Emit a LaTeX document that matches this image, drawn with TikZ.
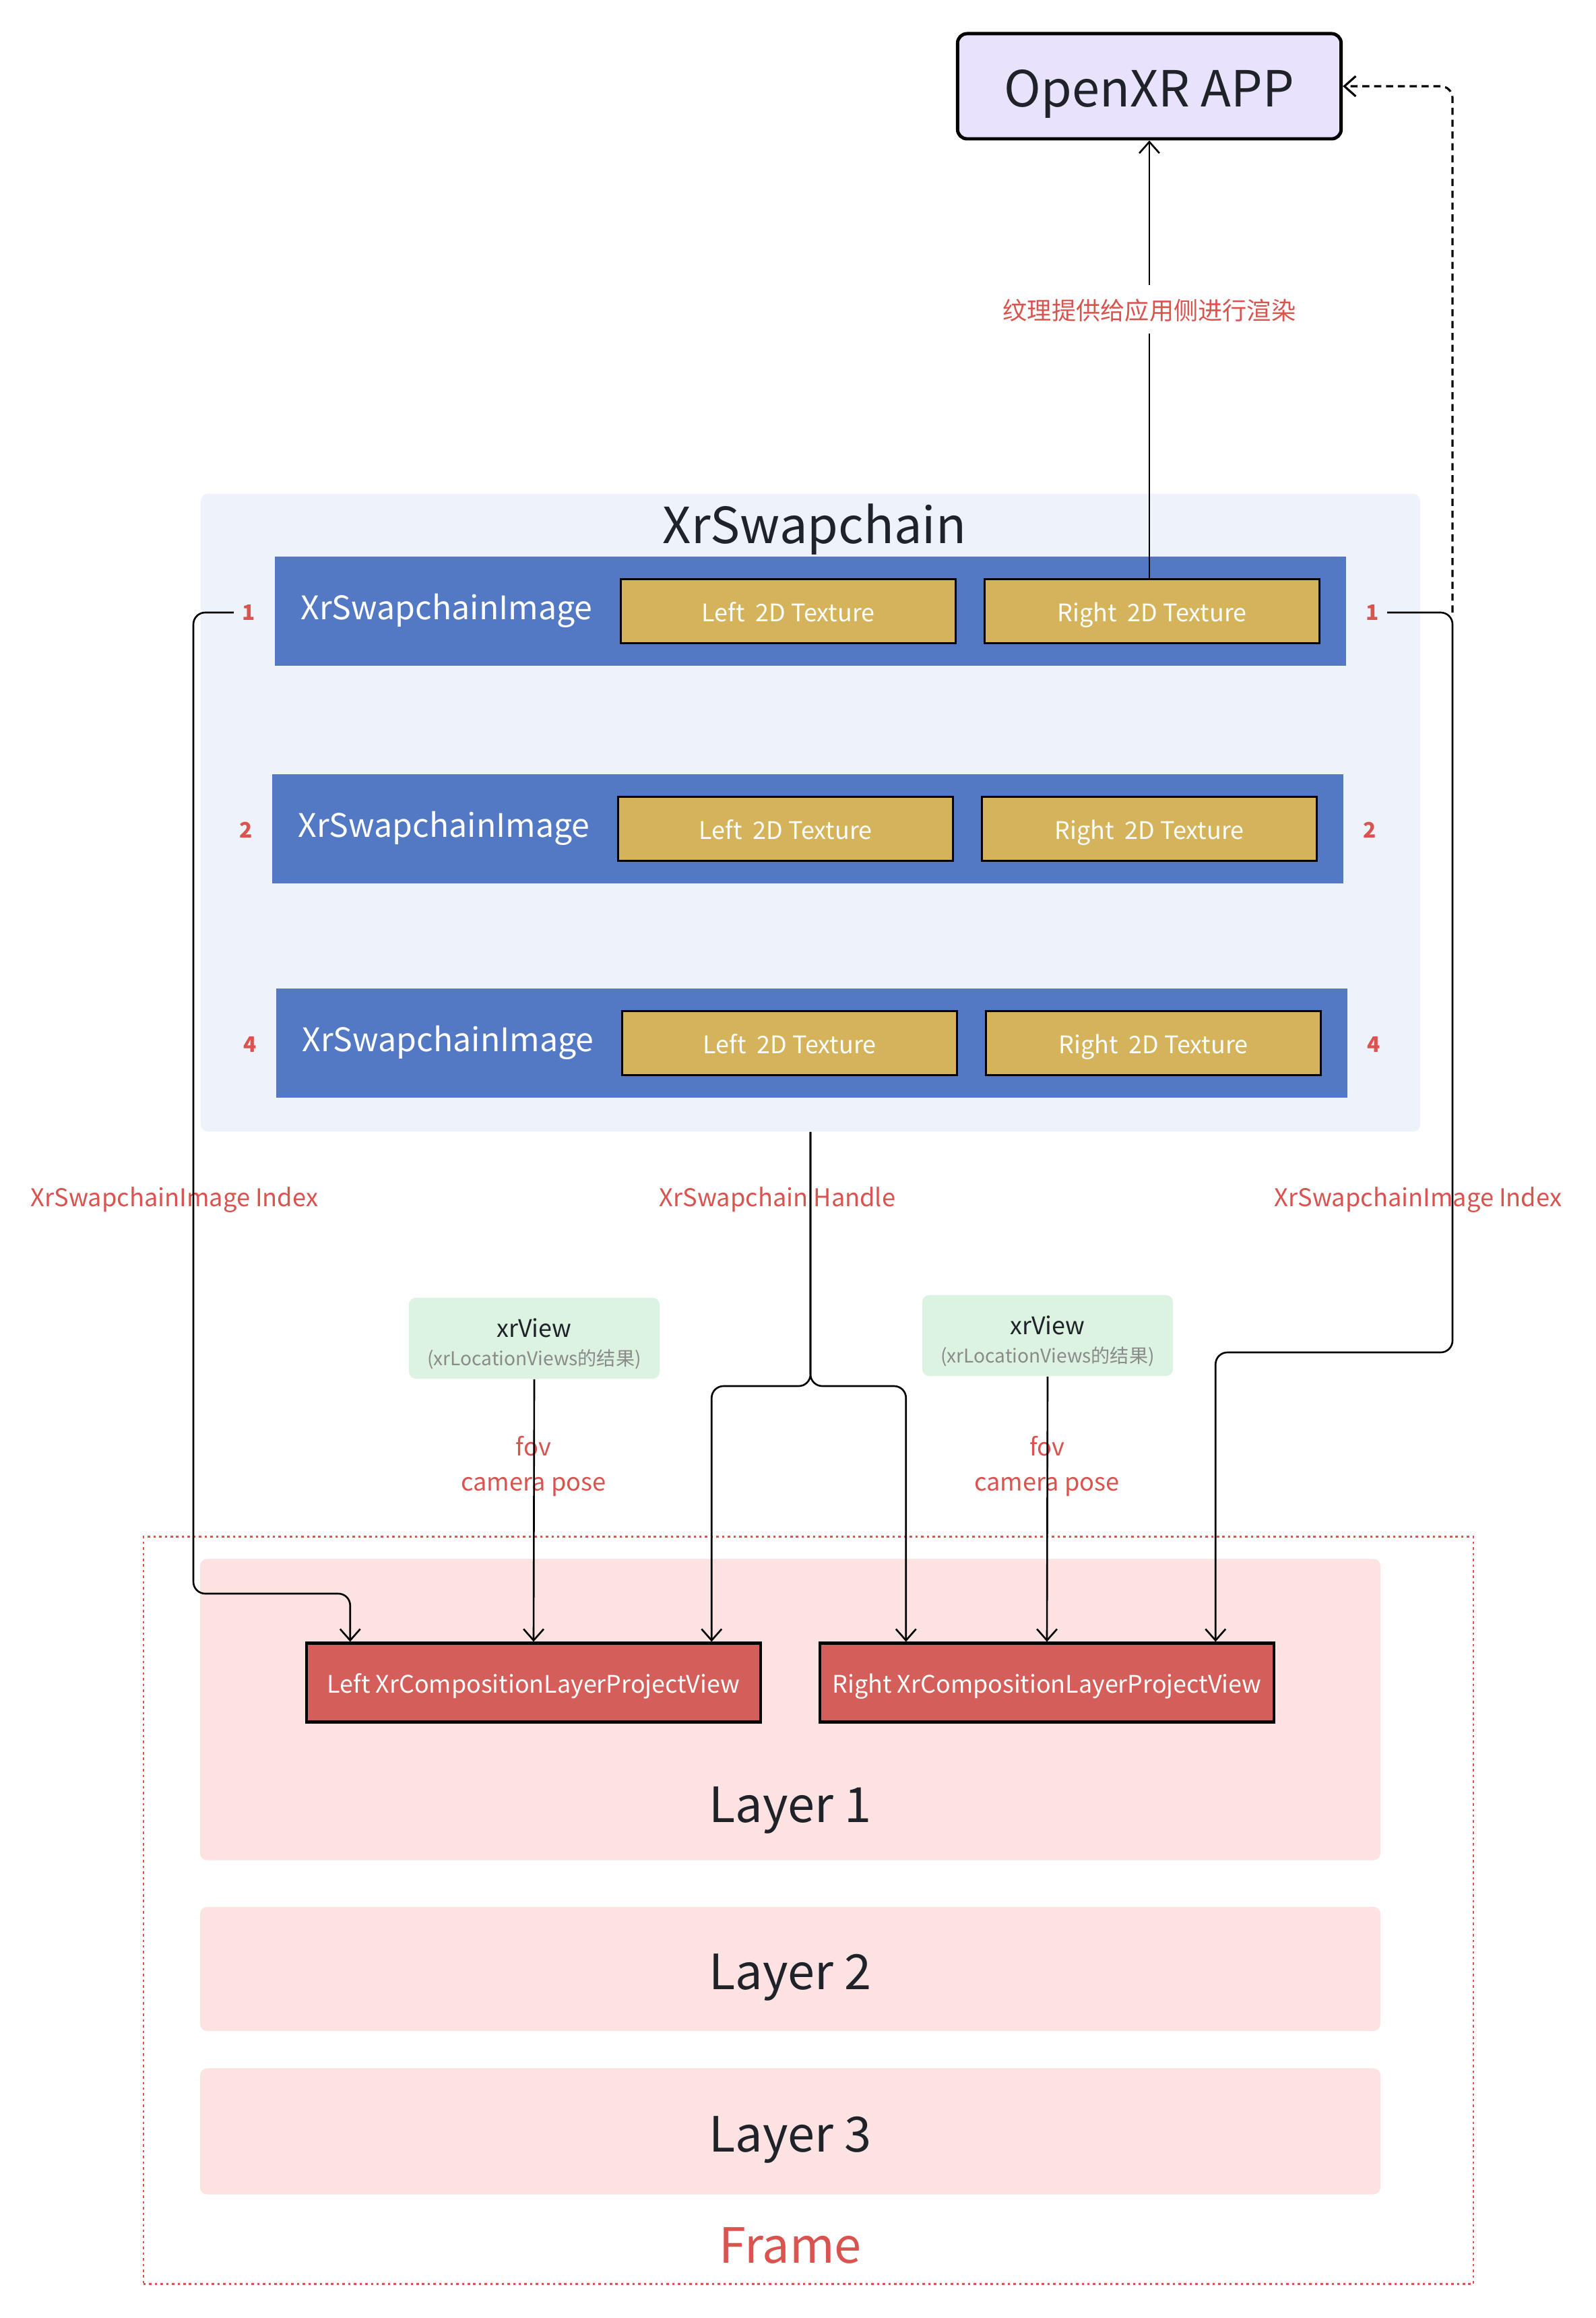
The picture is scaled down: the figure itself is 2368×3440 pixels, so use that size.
\documentclass[tikz,border=0pt]{standalone}
\usepackage{fontspec}
\setmainfont{Noto Sans CJK SC}
\usetikzlibrary{arrows.meta}
\definecolor{appfill}{HTML}{E9E2FC}
\definecolor{swapfill}{HTML}{EEF2FB}
\definecolor{rowblue}{HTML}{5379C5}
\definecolor{texgold}{HTML}{D4B35B}
\definecolor{labelred}{HTML}{D9534F}
\definecolor{projred}{HTML}{D35E5A}
\definecolor{viewgreen}{HTML}{DDF3E2}
\definecolor{layerpink}{HTML}{FDE2E2}
\definecolor{darktext}{HTML}{1F2329}
\definecolor{subgray}{HTML}{8A8A8A}

\tikzset{
  oneline/.style={text height=9.2pt, text depth=0.6pt},
  bigline/.style={text height=18.7pt, text depth=1.2pt},
  appbox/.style={draw=black, line width=1.4pt, rounded corners=4pt, fill=appfill,
    minimum width=5.69cm, minimum height=1.56cm, text=darktext, font=\fontsize{21}{25}\selectfont, bigline},
  swapbox/.style={fill=swapfill, rounded corners=3pt, minimum width=18.09cm, minimum height=9.46cm},
  titletext/.style={text=darktext, font=\fontsize{21}{25}\selectfont, bigline},
  rowbox/.style={fill=rowblue, minimum width=15.89cm, minimum height=1.61cm},
  rowtext/.style={text=white, font=\fontsize{13.7}{16}\selectfont, text height=12.3pt, text depth=0.8pt},
  texbox/.style={draw=black, line width=0.9pt, fill=texgold, text=white,
    minimum width=4.96cm, minimum height=0.95cm, font=\fontsize{10.2}{12}\selectfont, oneline},
  numtext/.style={text=labelred, font=\fontsize{9}{11}\selectfont\bfseries},
  redtext/.style={text=labelred, font=\fontsize{10.3}{15}\selectfont},
  viewbox/.style={fill=viewgreen, rounded corners=3pt, minimum width=3.72cm, minimum height=1.2cm,
    align=center, text=darktext, font=\fontsize{10.2}{13}\selectfont},
  projbox/.style={draw=black, line width=1.2pt, fill=projred, text=white,
    minimum width=6.74cm, minimum height=1.17cm, font=\fontsize{10.2}{12}\selectfont, oneline},
  framebox/.style={draw=labelred, line width=0.7pt, dash pattern=on 1pt off 1.4pt,
    minimum width=19.73cm, minimum height=11.08cm},
  layerbox/.style={fill=layerpink, rounded corners=3pt, minimum width=17.51cm,
    text=darktext, font=\fontsize{20.5}{24}\selectfont, bigline},
  link/.style={draw=black, line width=0.75pt, rounded corners=5pt},
  feedback/.style={link, line width=0.9pt, dash pattern=on 3pt off 2pt}
}

\begin{document}
\begin{tikzpicture}[x=0.01cm, y=-0.01cm, >={Straight Barb[length=4.8pt,width=8.5pt]}]
\fill[white] (0,0) rectangle (2368,3440);
\useasboundingbox (0,0) rectangle (2368,3440);

\node[appbox] (app) at (1706,128) {OpenXR APP};

\node[swapbox] (swap) at (1203,1206) {};
\node[titletext] (swaptitle) at (1209,776) {XrSwapchain};

\foreach \r/\y/\dx/\n in {1/907/0/1, 2/1230/-4/2, 3/1548/2/4} {
  \node[rowbox] (row\r) at (\dx+1203,\y) {};
  \node[rowtext] (img\r) at (\dx+663,\y-8) {XrSwapchainImage};
  \node[texbox] (lt\r) at (\dx+1170,\y) {Left\ \ 2D Texture};
  \node[texbox] (rt\r) at (\dx+1710,\y) {Right\ \ 2D Texture};
  \node[numtext] (ln\r) at (\dx+369,\y+2) {\n};
  \node[numtext] (rn\r) at (\dx+2037,\y+2) {\n};
}

\node[redtext, oneline] (idxl) at (259,1775) {XrSwapchainImage Index};
\node[redtext, oneline] (handle) at (1154,1775) {XrSwapchain Handle};
\node[redtext, oneline] (idxr) at (2105,1775) {XrSwapchainImage Index};

\node[viewbox] (viewl) at (793,1986) {\rule{0pt}{1.25em}xrView\\[-1pt]{\color{subgray}\fontsize{8}{10}\selectfont (xrLocationViews的结果)}};
\node[viewbox] (viewr) at (1555,1982) {\rule{0pt}{1.25em}xrView\\[-1pt]{\color{subgray}\fontsize{8}{10}\selectfont (xrLocationViews的结果)}};

\node[framebox] (frame) at (1200,2835) {};
\node[layerbox, minimum height=4.47cm] (layer1) at (1173,2537) {};
\node[layerbox, fill=none] (layer1t) at (1173,2674) {Layer 1};
\node[layerbox, minimum height=1.84cm] (layer2) at (1173,2922) {Layer 2};
\node[layerbox, minimum height=1.87cm] (layer3) at (1173,3163) {Layer 3};
\node[titletext, text=labelred, font=\fontsize{20.5}{24}\selectfont] (framet) at (1173,3328) {Frame};

\node[projbox] (lproj) at (792,2497) {Left XrCompositionLayerProjectView};
\node[projbox] (rproj) at (1554,2497) {Right XrCompositionLayerProjectView};

\node[redtext, align=center] (fovl) at (792,2176) {fov\\camera pose};
\node[redtext, align=center] (fovr) at (1554,2176) {fov\\camera pose};

\coordinate (lp1) at ([xshift=0.67cm]lproj.north west);
\coordinate (lp3) at ([xshift=-0.75cm]lproj.north east);
\coordinate (rp1) at ([xshift=1.3cm]rproj.north west);
\coordinate (rp3) at ([xshift=-0.89cm]rproj.north east);
\coordinate (lturn) at (287,2365);
\coordinate (split) at (1203,2057);
\coordinate (rturn) at (2156,2007);
\coordinate (rcorner) at (2156,909);

\node[redtext, oneline, fill=white, inner sep=5pt] (texlabel) at (1706,459) {纹理提供给应用侧进行渲染};
\draw[link] (rt1.north -| texlabel) -- (texlabel);
\draw[link, ->] (texlabel) -- (app);

\draw[link, ->] (ln1.west) -| (lturn) -| (lp1);
\draw[link, ->] (swap.south) -- (split) -| (lp3);
\draw[link, ->] (swap.south) -- (split) -| (rp1);
\draw[link, ->] (viewl.south) -- (lproj.north);
\draw[link, ->] (viewr.south) -- (rproj.north);
\draw[link, ->] (rn1.east) -| (rturn) -| (rp3);
\draw[feedback, ->] (rcorner) |- (app.east);
\end{tikzpicture}
\end{document}
